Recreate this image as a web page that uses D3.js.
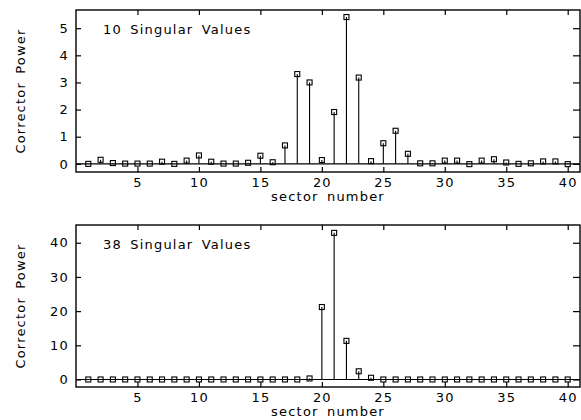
<!DOCTYPE html>
<html>
<head>
<meta charset="utf-8">
<script src="https://cdn.jsdelivr.net/npm/d3@7"></script>
<style>
  body { margin: 0; background: #fff; }
  text { font-family: "DejaVu Sans", sans-serif; font-size: 13px; fill: #000; letter-spacing: 1.2px; }
</style>
</head>
<body>
<svg width="581" height="420"></svg>
<script>
// sector numbers 1..40
const sectors = d3.range(1, 41);

// corrector power, 10 singular values
const power10 = [0.0, 0.15, 0.03, 0.01, 0.01, 0.01, 0.08, 0.0, 0.12, 0.31,
                 0.08, 0.01, 0.01, 0.04, 0.30, 0.06, 0.68, 3.31, 3.0, 0.14,
                 1.91, 5.41, 3.18, 0.10, 0.76, 1.22, 0.37, 0.02, 0.02, 0.12,
                 0.12, -0.01, 0.12, 0.17, 0.05, 0.0, 0.02, 0.09, 0.09, -0.01];

// corrector power, 38 singular values
const power38 = [0, 0, 0, 0, 0, 0, 0, 0, 0, 0,
                 0, 0, 0, 0, 0, 0, 0, 0, 0.3, 21.2,
                 42.9, 11.3, 2.4, 0.5, 0, 0, 0, 0, 0, 0,
                 0, 0, 0, 0, 0, 0, 0, 0, 0, 0];

const xTicks = [5, 10, 15, 20, 25, 30, 35, 40];
const yTicks10 = [0, 1, 2, 3, 4, 5];
const yTicks38 = [0, 10, 20, 30, 40];

const svg = d3.select("svg");

const x = d3.scaleLinear().domain([0, 41]).range([76, 580]);

function panel(vals, yDomain, yRange, yTicks, title) {
  const y = d3.scaleLinear().domain(yDomain).range(yRange);
  const g = svg.append("g");
  const top = yRange[1], bot = yRange[0];

  // frame
  g.append("rect")
    .attr("x", 76).attr("y", top)
    .attr("width", 504).attr("height", bot - top)
    .attr("fill", "none").attr("stroke", "#000").attr("stroke-width", 1.4);

  // axes, ticks inward
  const ax = [
    [d3.axisBottom(x).tickValues(xTicks).tickSize(-5).tickPadding(6), `translate(0,${bot})`, true],
    [d3.axisTop(x).tickValues(xTicks).tickSize(-5), `translate(0,${top})`, false],
    [d3.axisLeft(y).tickValues(yTicks).tickSize(-5).tickPadding(7).tickFormat(d3.format("d")), `translate(76,0)`, true],
    [d3.axisRight(y).tickValues(yTicks).tickSize(-7), `translate(580,0)`, false]
  ];
  ax.forEach(function(a) {
    const sel = g.append("g").attr("transform", a[1]).call(a[0]);
    sel.select(".domain").remove();
    sel.selectAll("line").attr("stroke", "#000").attr("stroke-width", 1.2);
    if (!a[2]) sel.selectAll("text").remove();
    else sel.selectAll("text").style("font-size", "13px").attr("fill", "#000");
  });

  // zero line
  g.append("line")
    .attr("x1", 76).attr("x2", 580)
    .attr("y1", y(0)).attr("y2", y(0))
    .attr("stroke", "#000").attr("stroke-width", 1.2);

  // stems
  g.selectAll(".stem").data(sectors).join("line")
    .attr("x1", d => x(d)).attr("x2", d => x(d))
    .attr("y1", y(0)).attr("y2", (d, i) => y(vals[i]))
    .attr("stroke", "#000").attr("stroke-width", 1.1);

  // markers (hollow, stem shows through)
  g.selectAll(".mk").data(sectors).join("rect")
    .attr("x", d => x(d) - 2.5).attr("y", (d, i) => y(vals[i]) - 2.5)
    .attr("width", 5).attr("height", 5)
    .attr("fill", "none").attr("stroke", "#000").attr("stroke-width", 1.1);

  g.append("text").attr("x", 103).attr("y", top + 24)
    .style("word-spacing", "3px").text(title);

  g.append("text").attr("x", 328).attr("y", bot + 29)
    .attr("text-anchor", "middle").style("word-spacing", "3px").text("sector number");

  g.append("text")
    .attr("transform", `translate(25,${(top + bot) / 2}) rotate(-90)`)
    .attr("text-anchor", "middle").style("word-spacing", "3px").text("Corrector Power");
}

panel(power10, [-0.3, 5.67], [172, 10], yTicks10, "10 Singular Values");
panel(power38, [-2.2, 45.2], [387, 225], yTicks38, "38 Singular Values");
</script>
</body>
</html>
